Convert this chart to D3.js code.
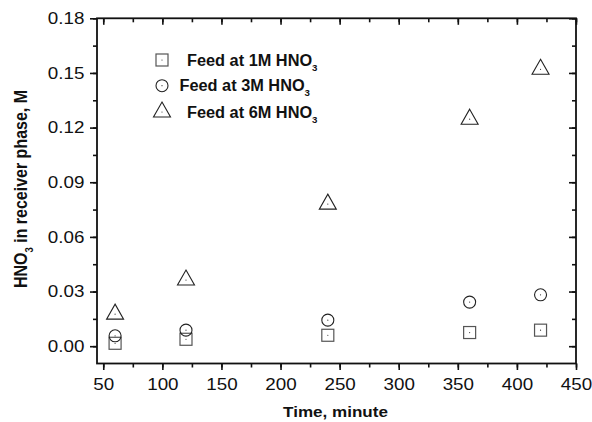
<!DOCTYPE html>
<html>
<head>
<meta charset="utf-8">
<script src="https://cdn.jsdelivr.net/npm/d3@7"></script>
<style>
  body { margin: 0; background: #fff; }
  svg { display: block; }
  text { font-family: "Liberation Sans", Arial, sans-serif; fill: #111; }
</style>
</head>
<body>
<div id="chart"></div>
<script>
// Data
const times = [60, 120, 240, 360, 420];
const feed1M = [0.0016, 0.0038, 0.0060, 0.0075, 0.0088];
const feed3M = [0.0057, 0.0088, 0.0143, 0.0242, 0.0282];
const feed6M = [0.0176, 0.0363, 0.0780, 0.1246, 0.1520];
const seriesNames = ["Feed at 1M HNO", "Feed at 3M HNO", "Feed at 6M HNO"];
const seriesShapes = ["square", "circle", "triangle"];
const xTicks = [50, 100, 150, 200, 250, 300, 350, 400, 450];
const yTicks = [0, 0.03, 0.06, 0.09, 0.12, 0.15, 0.18];

const chart_w = 592, chart_h = 422;
const plot_l = 97, plot_r = 576, plot_t = 18.3, plot_b = 363.5;
const sx = 1.14; // source image is slightly stretched horizontally

const svg = d3.select("#chart").append("svg")
    .attr("width", chart_w)
    .attr("height", chart_h);

const x = d3.scaleLinear().domain([44.7, 450]).range([plot_l, plot_r]);
const y = d3.scaleLinear().domain([-0.0095, 0.18]).range([plot_b, plot_t]);

const xMinor = d3.range(50, 451, 25);
const yMinor = d3.range(0, 0.1801, 0.015);

// Minor ticks (all four sides)
const axisStyle = g => {
    g.select(".domain").remove();
    g.selectAll("line").attr("stroke", "#111").attr("stroke-width", 1.6);
};
svg.append("g").attr("transform", `translate(0,${plot_b})`)
    .call(d3.axisBottom(x).tickValues(xMinor).tickSize(4).tickFormat(""))
    .call(axisStyle);
svg.append("g").attr("transform", `translate(0,${plot_t})`)
    .call(d3.axisBottom(x).tickValues(xMinor).tickSize(4).tickFormat(""))
    .call(axisStyle);
svg.append("g").attr("transform", `translate(${plot_l},0)`)
    .call(d3.axisLeft(y).tickValues(yMinor).tickSize(4).tickFormat(""))
    .call(axisStyle);
svg.append("g").attr("transform", `translate(${plot_r},0)`)
    .call(d3.axisLeft(y).tickValues(yMinor).tickSize(4).tickFormat(""))
    .call(axisStyle);

// Major ticks: out on bottom/left, in on top/right
svg.append("g").attr("transform", `translate(0,${plot_b})`)
    .call(d3.axisBottom(x).tickValues(xTicks).tickSize(6.5).tickPadding(8).tickFormat(d3.format("d")))
    .call(axisStyle)
    .call(g => g.selectAll("text")
        .attr("font-size", 16.5)
        .attr("font-family", "Liberation Sans, Arial, sans-serif")
        .attr("transform", `scale(${sx},1)`));
svg.append("g").attr("transform", `translate(0,${plot_t})`)
    .call(d3.axisBottom(x).tickValues(xTicks).tickSize(6.5).tickFormat(""))
    .call(axisStyle);
svg.append("g").attr("transform", `translate(${plot_l},0)`)
    .call(d3.axisLeft(y).tickValues(yTicks).tickSize(7).tickPadding(4).tickFormat(d3.format(".2f")))
    .call(axisStyle)
    .call(g => g.selectAll("text")
        .attr("font-size", 16.5)
        .attr("font-family", "Liberation Sans, Arial, sans-serif")
        .attr("transform", `scale(${sx},1)`));
svg.append("g").attr("transform", `translate(${plot_r},0)`)
    .call(d3.axisLeft(y).tickValues(yTicks).tickSize(7).tickFormat(""))
    .call(axisStyle);

// Frame
svg.append("rect")
    .attr("x", plot_l).attr("y", plot_t)
    .attr("width", plot_r - plot_l).attr("height", plot_b - plot_t)
    .attr("fill", "none").attr("stroke", "#111").attr("stroke-width", 1.8);

// Marker drawing
function marker(g, shape) {
    if (shape === "square") {
        g.append("rect").attr("x", -6).attr("y", -6).attr("width", 12).attr("height", 12)
            .attr("fill", "none").attr("stroke", "#555").attr("stroke-width", 1.2);
    } else if (shape === "circle") {
        g.append("circle").attr("r", 6)
            .attr("fill", "none").attr("stroke", "#222").attr("stroke-width", 1.1);
    } else {
        g.append("path").attr("d", "M0,-10 L8.5,5 L-8.5,5 Z")
            .attr("fill", "none").attr("stroke", "#222").attr("stroke-width", 1.1);
    }
    g.append("circle").attr("r", 0.6).attr("fill", "#333");
}

const allSeries = [feed1M, feed3M, feed6M];
allSeries.forEach((vals, i) => {
    svg.append("g").selectAll("g")
        .data(times.map((t, j) => ({ t, v: vals[j] })))
        .join("g")
        .attr("transform", d => `translate(${x(d.t)},${y(d.v)})`)
        .each(function() { marker(d3.select(this), seriesShapes[i]); });
});

// Legend
const legendX = 162, legendY = [60, 85.7, 112];
const textX = [187, 179.5, 187];
seriesNames.forEach((name, i) => {
    const g = svg.append("g").attr("transform", `translate(${legendX},${legendY[i]})`);
    marker(g, seriesShapes[i]);
    const t = svg.append("text")
        .attr("transform", `translate(${textX[i]},${legendY[i] + 5.5}) scale(1.02,1)`)
        .attr("font-size", 16)
        .attr("font-weight", "bold");
    t.append("tspan").text(name);
    t.append("tspan").attr("font-size", 9.5).attr("dy", 5).text("3");
});

// Axis titles
svg.append("text")
    .attr("transform", `translate(${(plot_l + plot_r) / 2 - 1},417) scale(1.1,1)`)
    .attr("text-anchor", "middle")
    .attr("font-size", 15.5)
    .attr("font-weight", "bold")
    .text("Time, minute");

const yt = svg.append("text")
    .attr("transform", `translate(27,189) rotate(-90) scale(1,1.1)`)
    .attr("text-anchor", "middle")
    .attr("font-size", 16)
    .attr("font-weight", "bold");
yt.append("tspan").text("HNO");
yt.append("tspan").attr("font-size", 9.5).attr("dy", 5).text("3");
yt.append("tspan").attr("dy", -5).text(" in receiver phase, M");
</script>
</body>
</html>
